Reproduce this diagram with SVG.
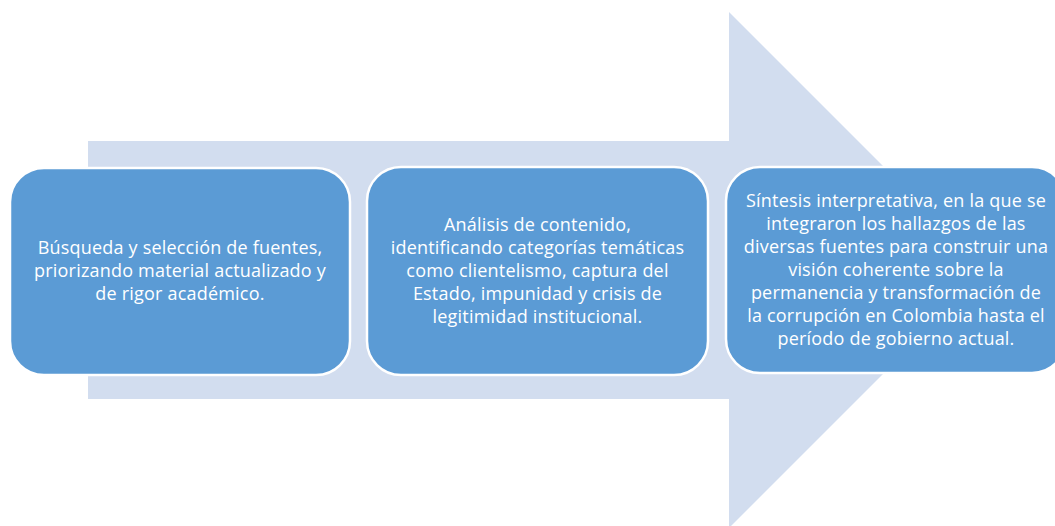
<svg xmlns="http://www.w3.org/2000/svg" width="1055" height="526" viewBox="0 0 1055 526">
<style>
.box{fill:#5b9bd5;stroke:#ffffff;stroke-width:2.5}
.t{font-family:"Open Sans","Liberation Sans",sans-serif;font-size:18px;letter-spacing:0.2px;fill:#ffffff;text-anchor:middle}
</style>
<rect width="1055" height="526" fill="#ffffff"/>
<g id="arrow">
<polygon points="88,141 729,141 729,12 987,270 729,528 729,399 88,399" fill="#d2ddef"/>
</g>
<g id="node1">
<rect class="box" x="10" y="168" width="340" height="207" rx="34"/>
<text class="t"><tspan x="180" y="254">Búsqueda y selección de fuentes,</tspan><tspan x="180" y="277">priorizando material actualizado y</tspan><tspan x="180" y="300">de rigor académico.</tspan></text>
</g>
<g id="node2">
<rect class="box" x="367" y="167" width="341" height="208" rx="34"/>
<text class="t"><tspan x="537.5" y="231">Análisis de contenido,</tspan><tspan x="537.5" y="254">identificando categorías temáticas</tspan><tspan x="537.5" y="277">como clientelismo, captura del</tspan><tspan x="537.5" y="300">Estado, impunidad y crisis de</tspan><tspan x="537.5" y="323">legitimidad institucional.</tspan></text>
</g>
<g id="node3">
<rect class="box" x="726" y="167" width="340" height="206" rx="34"/>
<text class="t"><tspan x="896" y="207">Síntesis interpretativa, en la que se</tspan><tspan x="896" y="230">integraron los hallazgos de las</tspan><tspan x="896" y="253">diversas fuentes para construir una</tspan><tspan x="896" y="276">visión coherente sobre la</tspan><tspan x="896" y="299">permanencia y transformación de</tspan><tspan x="896" y="322">la corrupción en Colombia hasta el</tspan><tspan x="896" y="345">período de gobierno actual.</tspan></text>
</g>
<g id="connectors"></g>
</svg>
